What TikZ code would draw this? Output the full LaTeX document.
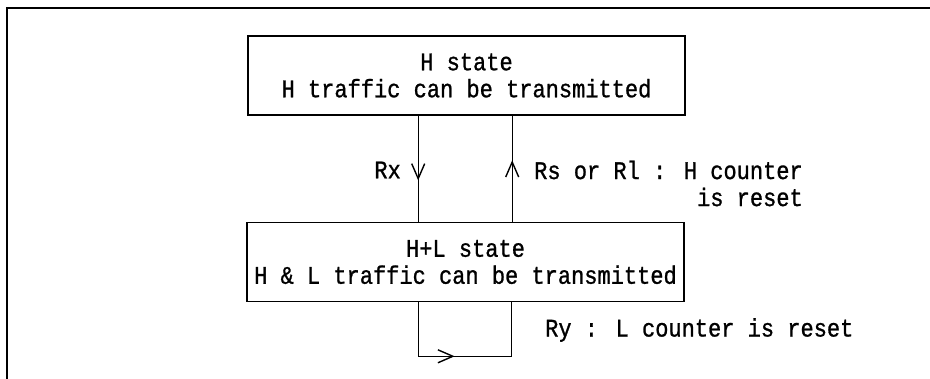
\documentclass[tikz,border=0pt]{standalone}
\usepackage{fontspec}
\newfontfamily\printfont[FakeStretch=0.87, FakeBold=1]{Liberation Mono}
\usetikzlibrary{arrows.meta, positioning, decorations.markings}

\begin{document}
\begin{tikzpicture}[x=1pt, y=-1pt,
    statebox/.style={draw, line width=1.6pt, minimum width=437pt,
      minimum height=79pt, inner sep=0pt, align=center,
      font=\printfont\fontsize{25.3}{27}\selectfont},
    translabel/.style={inner sep=0pt, font=\printfont\fontsize{25.3}{27}\selectfont},
    transline/.style={line width=1.3pt, postaction={decorate},
      decoration={markings, mark=at position #1 with
        {\arrow{Straight Barb[length=15pt, width=13pt, line width=1.4pt]}}}} ]

    \useasboundingbox (0,0) rectangle (930,379);

    % Frame
    \draw[line width=1.6pt] (7,379) -- (7,8) -- (930,8);

    % States
    \node[statebox] (hstate) at (466.5,75.5) {H state\\H traffic can be transmitted};
    \node[statebox] (hlstate) at (465.5,262) {H+L state\\H \& L traffic can be transmitted};

    % Transitions between the states
    \draw[transline=0.61] ([xshift=171pt]hstate.south west) -- ([xshift=172pt]hlstate.north west);
    \draw[transline=0.58] ([xshift=266pt]hlstate.north west) -- ([xshift=265pt]hstate.south west);

    % Self loop under H+L state
    \draw[transline=0.45] ([xshift=172pt]hlstate.south west) -- ++(0,54)
      -| ([xshift=265pt]hlstate.south west);

    % Labels
    \node[translabel, anchor=east] (rx) at (401,170) {Rx};
    \node[translabel, anchor=west, align=right] (rs) at (534,183.5) {Rs or Rl : H counter\\is reset};
    \node[translabel, anchor=west] (ry) at (545,330) {Ry : L counter is reset};

\end{tikzpicture}
\end{document}
